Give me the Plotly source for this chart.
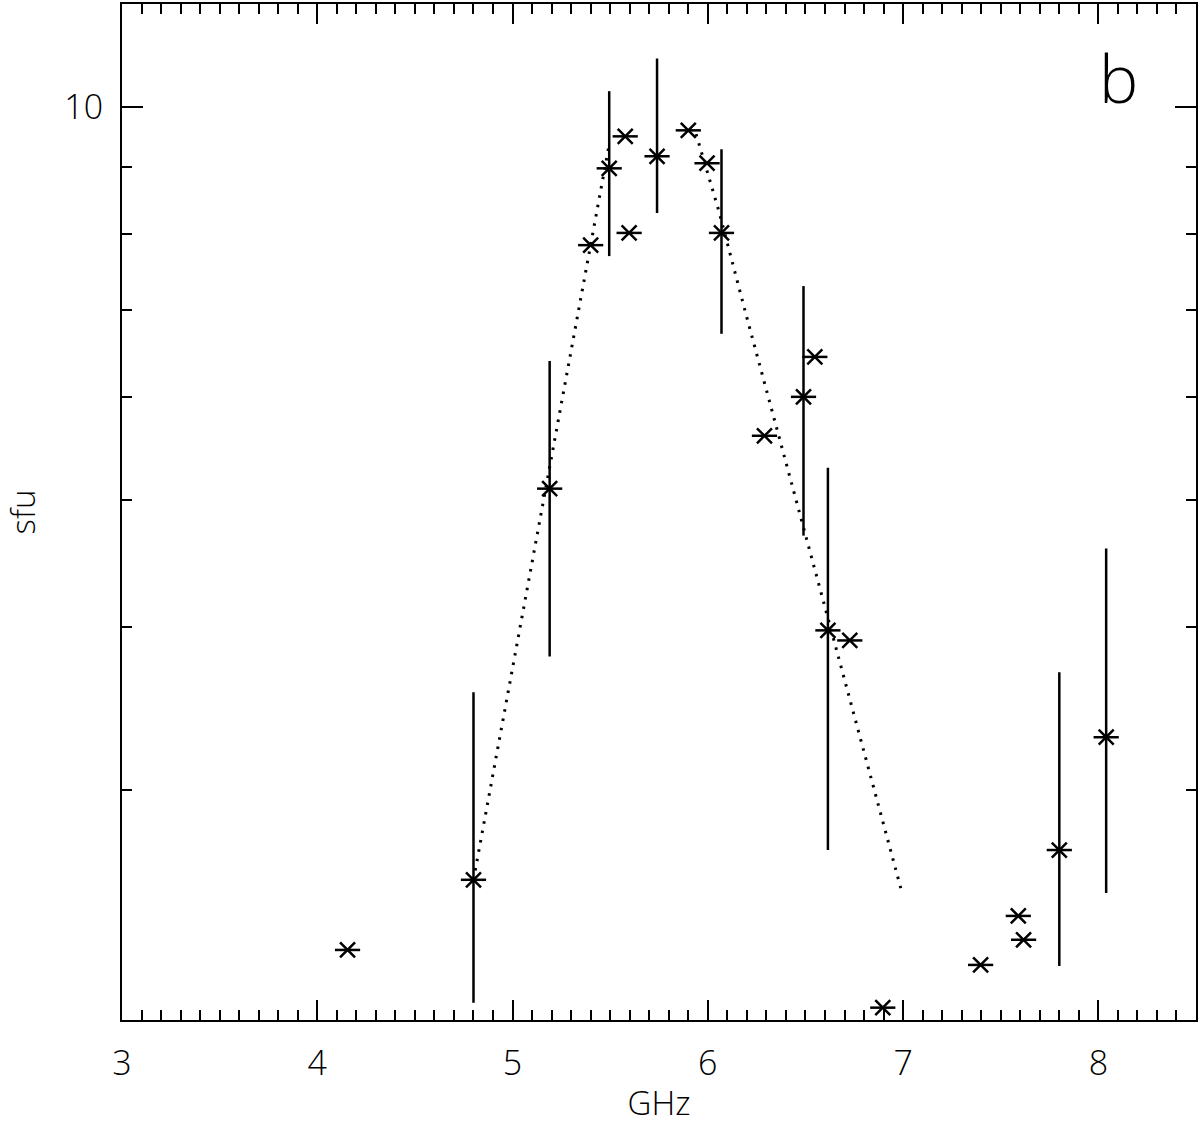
import math
import plotly.graph_objects as go

# Data
freq = [4.155, 4.80, 5.19, 5.40, 5.495, 5.577, 5.597, 5.74, 5.90, 5.996, 6.07,
        6.29, 6.49, 6.548, 6.615, 6.727, 6.896, 7.397, 7.59, 7.617, 7.80, 8.04]
flux = [2.263, 2.561, 5.105, 7.843, 8.981, 9.502, 8.014, 9.174, 9.603, 9.062, 8.014,
        5.604, 6.002, 6.44, 3.976, 3.906, 2.044, 2.204, 2.403, 2.304, 2.699, 3.293]
flux_hi = [2.263, 3.565, 6.395, 7.843, 10.29, 9.502, 8.014, 10.90, 9.603, 9.062, 9.288,
           5.604, 7.297, 6.44, 5.297, 3.906, 2.044, 2.204, 2.403, 2.304, 3.693, 4.594]
flux_lo = [2.263, 2.062, 3.797, 7.843, 7.693, 9.502, 8.014, 8.30, 9.603, 9.062, 6.708,
           5.604, 4.699, 6.44, 2.699, 3.906, 2.044, 2.204, 2.403, 2.304, 2.200, 2.502]

fit_rise_x = [4.80, 5.495]
fit_rise_y = [2.561, 9.37]
fit_fall_x = [5.94, 6.057, 6.195, 6.476, 6.988]
fit_fall_y = [9.54, 8.325, 6.946, 4.851, 2.524]

x_range = [3, 8.5]
y_range = [2, 12]
x_ticks = [3, 4, 5, 6, 7, 8]
y_major = [10]
y_minor = [3, 4, 5, 6, 7, 8, 9]

FONT = "Open Sans"
err_plus = [h - f for h, f in zip(flux_hi, flux)]
err_minus = [f - l for f, l in zip(flux, flux_lo)]

fig = go.Figure()
for fx, fy in ((fit_rise_x, fit_rise_y), (fit_fall_x, fit_fall_y)):
    fig.add_trace(go.Scatter(x=fx, y=fy, mode="lines",
                             line=dict(color="black", width=3, dash="2.5px,7px"),
                             showlegend=False, hoverinfo="skip"))
# error bars + X part of the asterisk
fig.add_trace(go.Scatter(
    x=freq, y=flux, mode="markers",
    marker=dict(symbol="x-thin-open", size=15, color="black",
                line=dict(color="black", width=2.5)),
    error_y=dict(type="data", symmetric=False, array=err_plus, arrayminus=err_minus,
                 width=0, thickness=2.5, color="black"),
    showlegend=False))
# horizontal stroke of the asterisk
fig.add_trace(go.Scatter(
    x=freq, y=flux, mode="markers",
    marker=dict(symbol="line-ew-open", size=18, color="black",
                line=dict(color="black", width=2.5)),
    showlegend=False))

fig.add_annotation(text="b", x=0.928, y=0.928, xref="paper", yref="paper",
                   showarrow=False,
                   font=dict(family=FONT, size=66, color="black", weight=300),
                   xanchor="center", yanchor="middle")

fig.update_layout(
    width=1200, height=1125,
    margin=dict(l=122, r=3, t=2, b=105),
    plot_bgcolor="white", paper_bgcolor="white",
    font=dict(family=FONT, color="black", weight=300),
    xaxis=dict(range=x_range, tickvals=x_ticks, ticktext=[str(v) for v in x_ticks],
               ticks="inside", ticklen=20, tickwidth=2, tickcolor="black",
               showline=True, linewidth=2, linecolor="black", mirror="ticks",
               showgrid=False, zeroline=False,
               tickfont=dict(family=FONT, size=34, color="black", weight=300),
               ticklabelstandoff=12,
               minor=dict(dtick=0.1, ticks="inside", ticklen=10, tickwidth=2,
                          tickcolor="black", showgrid=False),
               title=dict(text="GHz", font=dict(family=FONT, size=33, color="black",
                                                weight=300),
                          standoff=14)),
    yaxis=dict(type="log", range=[math.log10(y_range[0]), math.log10(y_range[1])],
               tickmode="array", tickvals=y_major, ticktext=[str(v) for v in y_major],
               ticks="inside", ticklen=21, tickwidth=2, tickcolor="black",
               showline=True, linewidth=2, linecolor="black", mirror="ticks",
               showgrid=False, zeroline=False,
               tickfont=dict(family=FONT, size=34, color="black", weight=300),
               ticklabelstandoff=10,
               minor=dict(tickmode="array", tickvals=y_minor, ticks="inside", ticklen=10,
                          tickwidth=2, tickcolor="black", showgrid=False),
               title=dict(text="sfu", font=dict(family=FONT, size=33, color="black",
                                                weight=300),
                          standoff=28)),
)

fig.write_html("out.html", config={"displayModeBar": False},
               post_script="document.body.style.margin='0';document.body.style.overflow='hidden';")
